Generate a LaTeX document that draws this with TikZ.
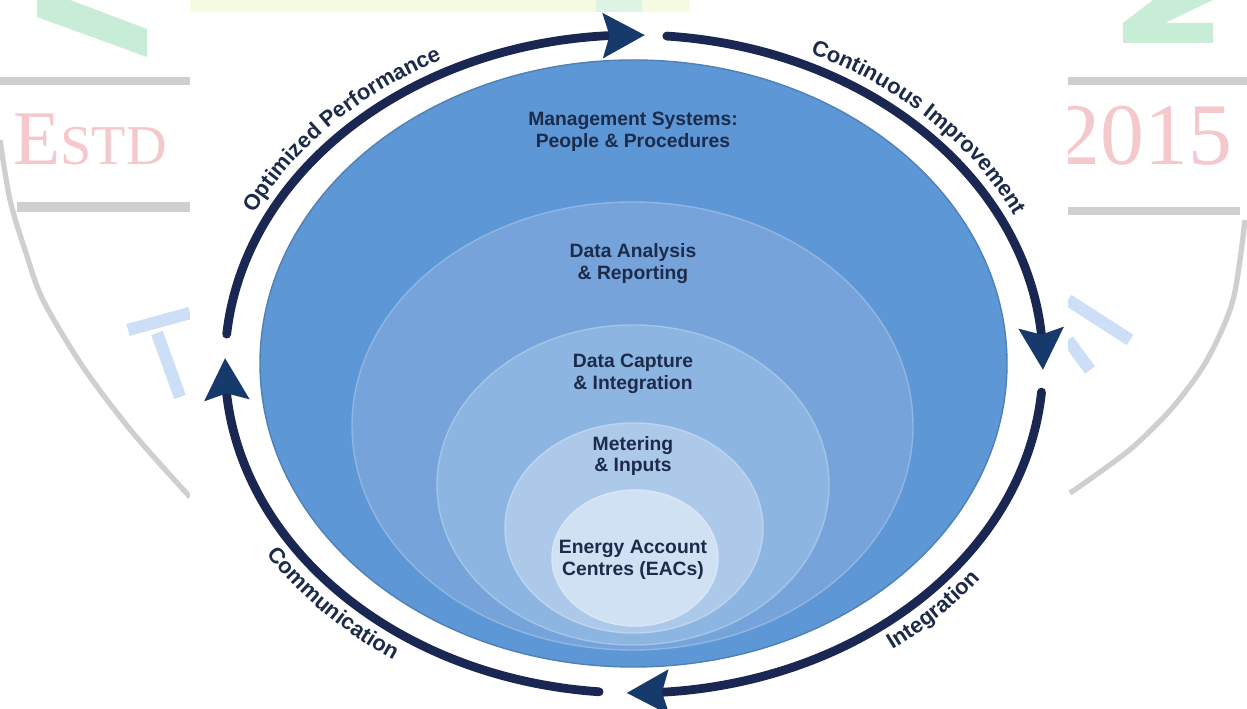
\documentclass[tikz,border=0pt]{standalone}
\usepackage{fontspec}
\setmainfont{Liberation Sans}
\newfontfamily\wmserif{Liberation Serif}
\usetikzlibrary{arrows.meta,bending,decorations.text}
\definecolor{ringnavy}{HTML}{1B2753}
\definecolor{tipnavy}{HTML}{173A6C}
\definecolor{labelnavy}{HTML}{1D2B4A}
\definecolor{layerA}{HTML}{5D97D6}
\definecolor{layerB}{HTML}{76A4DA}
\definecolor{layerC}{HTML}{8DB5E2}
\definecolor{layerD}{HTML}{ACC9EA}
\definecolor{layerE}{HTML}{CFE1F3}
\definecolor{wmgrey}{HTML}{CFCFCF}
\definecolor{wmpink}{HTML}{F5C8CB}
\definecolor{wmgreen}{HTML}{C8EDD7}
\definecolor{wmblue}{HTML}{CCDFF7}
\definecolor{wmband}{HTML}{F6FBE3}
\newcommand\ringfont{\fontsize{12.5}{14}\selectfont\bfseries}
\begin{document}
\begin{tikzpicture}[x=0.02cm,y=0.02cm]
  \tikzstyle{ring}=[draw=ringnavy,line width=5pt,line cap=round,-{Stealth[width=26pt,length=24pt,inset=4pt,line width=0pt,color=tipnavy]}]
  \tikzstyle{layer}=[line width=0.8pt]
  \tikzstyle{layertext}=[text=labelnavy,font=\fontsize{11}{12.5}\selectfont\bfseries,align=center]
  \tikzstyle{ringlabel}=[decorate,decoration={text along path,text align=center,text color=labelnavy}]
  \tikzstyle{wmline}=[line width=7pt]
  \useasboundingbox (0,0) rectangle (1247,709);
  \fill[white] (0,0) rectangle (1247,709);
  % watermark behind the panel
  \fill[wmgrey] (0,624) rectangle (190,632);
  \fill[wmgrey] (17,497) rectangle (190,507);
  \fill[wmgrey] (1068,624) rectangle (1247,632);
  \fill[wmgrey] (1068,494) rectangle (1240,502);
  \draw[wmgrey,line width=3pt] plot[smooth] coordinates {(0,569) (10,509) (25,459) (43,409) (83,342) (133,276) (190,212)};
  \draw[wmgrey,line width=3pt] plot[smooth] coordinates {(1245,489) (1233,409) (1207,349) (1173,302) (1133,262) (1093,232) (1070,216)};
  \node[anchor=base west,inner sep=0pt,text=wmpink] (estd) at (13,544) {\wmserif\fontsize{44}{44}\selectfont E\fontsize{32}{32}\selectfont STD};
  \node[anchor=base west,inner sep=0pt,text=wmpink] (year) at (1056,544) {\wmserif\fontsize{50}{50}\selectfont 2015};
  \fill[wmgreen] (37,709) -- (70,709) -- (147,680) -- (147,652) -- (37,692) -- cycle;
  \fill[wmgreen] (1153,709) -- (1213,709) -- (1165,686) -- (1213,686) -- (1213,666) -- (1123,666) -- (1123,686) -- cycle;
  \draw[wmblue,wmline] (128,379) -- (190,396);
  \draw[wmblue,wmline] (157,376) -- (180,312);
  \draw[wmblue,wmline] (1068,409) -- (1130,369);
  \draw[wmblue,wmline] (1068,369) -- (1090,339);
  % white panel
  \fill[white] (190,0) rectangle (1068,709);
  \fill[wmband] (190,697) rectangle (690,709);
  \fill[wmgreen!60] (596,697) rectangle (642,709);
  % nested layers
  \filldraw[layer,fill=layerA,draw=layerA!85!black] (633.5,345.5) ellipse [x radius=373.5,y radius=303.5];
  \filldraw[layer,fill=layerB,draw=layerB!80!white] (632.5,283) ellipse [x radius=280.5,y radius=224];
  \filldraw[layer,fill=layerC,draw=layerC!80!white] (633,224) ellipse [x radius=196,y radius=160];
  \filldraw[layer,fill=layerD,draw=layerD!80!white] (634,181) ellipse [x radius=129,y radius=105];
  \filldraw[layer,fill=layerE,draw=layerE!80!white] (635,151) ellipse [x radius=83,y radius=68];
  \node[layertext] (mgmt) at (633,577) {Management Systems:\\People \& Procedures};
  \node[layertext] (analysis) at (633,445.5) {Data Analysis\\\& Reporting};
  \node[layertext] (capture) at (633,335.5) {Data Capture\\\& Integration};
  \node[layertext] (metering) at (633,253) {Metering\\\& Inputs};
  \node[layertext] (eac) at (633,149) {Energy Account\\Centres (EACs)};
  % cycle of arrows
  \coordinate (ringc) at (634,345);
  \draw[ring] ([shift={(ringc)}]174.8:409 and 329) arc[start angle=174.8,end angle=88.5,x radius=409,y radius=329];
  \draw[ring] ([shift={(ringc)}]85.4:409 and 329) arc[start angle=85.4,end angle=-1,x radius=409,y radius=329];
  \draw[ring] ([shift={(ringc)}]-4.9:409 and 329) arc[start angle=-4.9,end angle=-91,x radius=409,y radius=329];
  \draw[ring] ([shift={(ringc)}]-94.9:409 and 329) arc[start angle=-94.9,end angle=-181,x radius=409,y radius=329];
  \path[ringlabel,decoration={text={|\ringfont|Optimized Performance}}] ([shift={(ringc)}]173:422 and 342) arc[start angle=173,end angle=101,x radius=422,y radius=342];
  \path[ringlabel,decoration={text={|\ringfont|Continuous Improvement}}] ([shift={(ringc)}]81:422 and 342) arc[start angle=81,end angle=7,x radius=422,y radius=342];
  \path[ringlabel,decoration={text={|\ringfont|Integration}}] ([shift={(ringc)}]-62:435 and 355) arc[start angle=-62,end angle=-28,x radius=435,y radius=355];
  \path[ringlabel,decoration={text={|\ringfont|Communication}}] ([shift={(ringc)}]-156:435 and 355) arc[start angle=-156,end angle=-116,x radius=435,y radius=355];
\end{tikzpicture}
\end{document}
